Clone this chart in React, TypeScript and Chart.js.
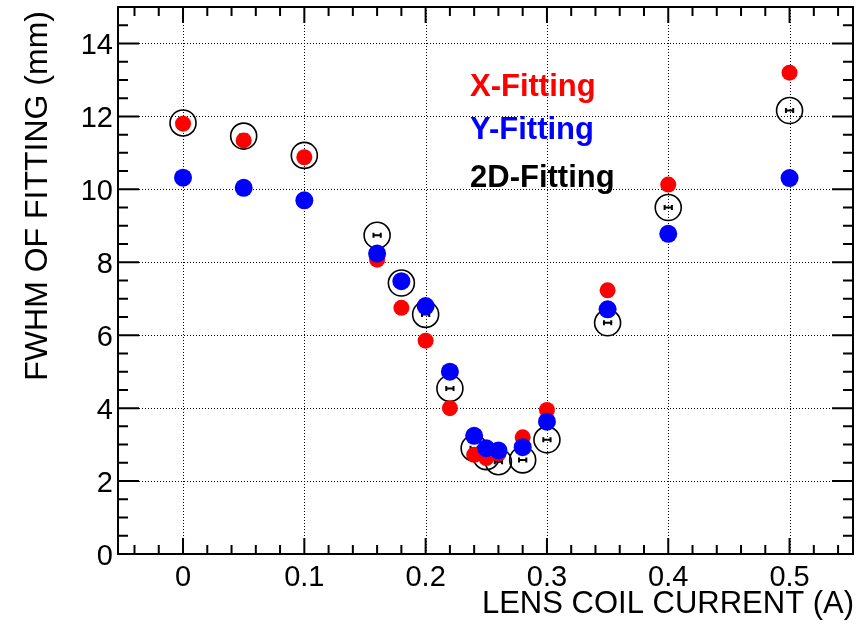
import React, { useEffect, useRef } from "react";
import { Chart, registerables } from "chart.js";

Chart.register(...registerables);

// ---- data ----
const currents = [0, 0.05, 0.1, 0.16, 0.18, 0.2, 0.22, 0.24, 0.25, 0.26, 0.28, 0.3, 0.35, 0.4, 0.5];
const xFitting = [11.8, 11.34, 10.88, 8.07, 6.75, 5.85, 4.0, 2.72, 2.63, 2.75, 3.2, 3.95, 7.23, 10.13, 13.2];
const yFitting = [10.32, 10.04, 9.7, 8.24, 7.48, 6.8, 5.0, 3.24, 2.9, 2.84, 2.93, 3.63, 6.71, 8.78, 10.31];
const fit2D = [11.82, 11.46, 10.93, 8.74, 7.43, 6.57, 4.54, 2.9, 2.67, 2.53, 2.58, 3.13, 6.34, 9.5, 12.16];
const fit2DXErr = [0.003, 0.003, 0.003, 0.003, 0.003, 0.003, 0.003, 0.003, 0.003, 0.003, 0.003, 0.003, 0.003, 0.003, 0.003];

const xTicks = [0, 0.1, 0.2, 0.3, 0.4, 0.5];
const xTickLabels = ["0", "0.1", "0.2", "0.3", "0.4", "0.5"];
const yTicks = [0, 2, 4, 6, 8, 10, 12, 14];
const yTickLabels = ["0", "2", "4", "6", "8", "10", "12", "14"];

const legendLabels = ["X-Fitting", "Y-Fitting", "2D-Fitting"];
const legendColors = ["#ff0000", "#0000ff", "#000000"];

const xTitle = "LENS COIL CURRENT (A)";
const yTitle = "FWHM OF FITTING (mm)";

const X_MIN = -0.0536;
const X_MAX = 0.5523;
const Y_MIN = 0;
const Y_MAX = 15;

const FONT = '"Liberation Sans", Arial, Helvetica, sans-serif';

const rootPlugin = {
  id: "rootStyle",
  beforeDatasetsDraw(chart: any) {
    const { ctx, chartArea: a, scales } = chart;
    const xs = scales.x;
    const ys = scales.y;
    ctx.save();
    ctx.strokeStyle = "#000";
    ctx.lineWidth = 1;
    ctx.setLineDash([1, 2]);
    ctx.beginPath();
    for (const t of xTicks) {
      const px = Math.round(xs.getPixelForValue(t)) + 0.5;
      ctx.moveTo(px, a.top);
      ctx.lineTo(px, a.bottom);
    }
    for (const t of yTicks) {
      if (t === Y_MIN) continue;
      const py = Math.round(ys.getPixelForValue(t)) + 0.5;
      ctx.moveTo(a.left, py);
      ctx.lineTo(a.right, py);
    }
    ctx.stroke();
    ctx.setLineDash([]);
    ctx.lineWidth = 2;
    ctx.beginPath();
    currents.forEach((c, i) => {
      const py = ys.getPixelForValue(fit2D[i]);
      const x1 = xs.getPixelForValue(c - fit2DXErr[i]);
      const x2 = xs.getPixelForValue(c + fit2DXErr[i]);
      ctx.moveTo(x1, py);
      ctx.lineTo(x2, py);
      ctx.moveTo(x1, py - 2.5);
      ctx.lineTo(x1, py + 2.5);
      ctx.moveTo(x2, py - 2.5);
      ctx.lineTo(x2, py + 2.5);
    });
    ctx.stroke();
    ctx.restore();
  },
  afterDatasetsDraw(chart: any) {
    const { ctx, chartArea: a, scales } = chart;
    const xs = scales.x;
    const ys = scales.y;
    ctx.save();
    ctx.strokeStyle = "#000";
    ctx.lineWidth = 2;
    ctx.strokeRect(a.left, a.top, a.right - a.left, a.bottom - a.top);
    ctx.beginPath();
    for (let i = -2; i <= 27; i++) {
      const v = i * 0.02;
      if (v < X_MIN || v > X_MAX) continue;
      const major = i % 5 === 0;
      const len = major ? 16 : 9;
      const px = xs.getPixelForValue(v);
      ctx.moveTo(px, a.bottom);
      ctx.lineTo(px, a.bottom - len);
      ctx.moveTo(px, a.top);
      ctx.lineTo(px, a.top + len);
    }
    for (let i = 0; i <= 30; i++) {
      const v = i * 0.5;
      const major = i % 4 === 0;
      const len = major ? 21 : 10;
      const py = ys.getPixelForValue(v);
      ctx.moveTo(a.left, py);
      ctx.lineTo(a.left + len, py);
      ctx.moveTo(a.right, py);
      ctx.lineTo(a.right - len, py);
    }
    ctx.stroke();
    ctx.restore();
  },
  afterDraw(chart: any) {
    const { ctx, chartArea: a, scales } = chart;
    const xs = scales.x;
    const ys = scales.y;
    ctx.save();
    ctx.fillStyle = "#000";
    ctx.font = `29px ${FONT}`;
    ctx.textAlign = "center";
    ctx.textBaseline = "alphabetic";
    xTicks.forEach((t, i) => {
      ctx.fillText(xTickLabels[i], xs.getPixelForValue(t), 586);
    });
    ctx.textAlign = "right";
    yTicks.forEach((t, i) => {
      ctx.fillText(yTickLabels[i], a.left - 5, ys.getPixelForValue(t) + 10.5);
    });
    ctx.font = `31px ${FONT}`;
    ctx.textAlign = "right";
    ctx.fillText(xTitle, a.right + 1, 613);
    ctx.save();
    ctx.translate(47, a.top + 4);
    ctx.rotate(-Math.PI / 2);
    ctx.textAlign = "right";
    ctx.font = `32px ${FONT}`;
    ctx.fillText(yTitle, 0, 0);
    ctx.restore();
    ctx.font = `bold 31px ${FONT}`;
    ctx.textAlign = "left";
    const legY = [96, 139, 187];
    legendLabels.forEach((lab, i) => {
      ctx.fillStyle = legendColors[i];
      ctx.fillText(lab, 470, legY[i]);
    });
    ctx.restore();
  },
};

export default function App() {
  const ref = useRef<HTMLCanvasElement | null>(null);
  useEffect(() => {
    if (!ref.current) return;
    const toPts = (ys: number[]) => currents.map((x, i) => ({ x, y: ys[i] }));
    const chart = new Chart(ref.current, {
      type: "scatter",
      data: {
        datasets: [
          {
            label: legendLabels[1],
            data: toPts(yFitting),
            backgroundColor: "#0000ff",
            borderColor: "#0000ff",
            borderWidth: 0,
            pointRadius: 9,
            pointHoverRadius: 9,
            order: 0,
          },
          {
            label: legendLabels[0],
            data: toPts(xFitting),
            backgroundColor: "#ff0000",
            borderColor: "#ff0000",
            borderWidth: 0,
            pointRadius: 8,
            pointHoverRadius: 8,
            order: 1,
          },
          {
            label: legendLabels[2],
            data: toPts(fit2D),
            backgroundColor: "rgba(0,0,0,0)",
            borderColor: "#000000",
            borderWidth: 1.6,
            pointRadius: 13,
            pointHoverRadius: 13,
            order: 2,
          },
        ],
      },
      options: {
        animation: false,
        responsive: false,
        maintainAspectRatio: false,
        devicePixelRatio: 1,
        layout: { autoPadding: false, padding: { left: 0, top: 7, right: 11, bottom: 0 } },
        plugins: { legend: { display: false }, tooltip: { enabled: false } },
        events: [],
        scales: {
          x: {
            type: "linear",
            min: X_MIN,
            max: X_MAX,
            grid: { display: false },
            border: { display: false },
            ticks: { display: false },
            afterFit: (s: any) => {
              s.height = 70;
            },
          },
          y: {
            type: "linear",
            min: Y_MIN,
            max: Y_MAX,
            grid: { display: false },
            border: { display: false },
            ticks: { display: false },
            afterFit: (s: any) => {
              s.width = 118;
            },
          },
        },
      },
      plugins: [rootPlugin],
    } as any);
    return () => chart.destroy();
  }, []);
  return (
    <div style={{ position: "fixed", left: 0, top: 0, width: 864, height: 624, background: "#fff" }}>
      <canvas ref={ref} width={864} height={624} style={{ display: "block", width: 864, height: 624 }} />
    </div>
  );
}
